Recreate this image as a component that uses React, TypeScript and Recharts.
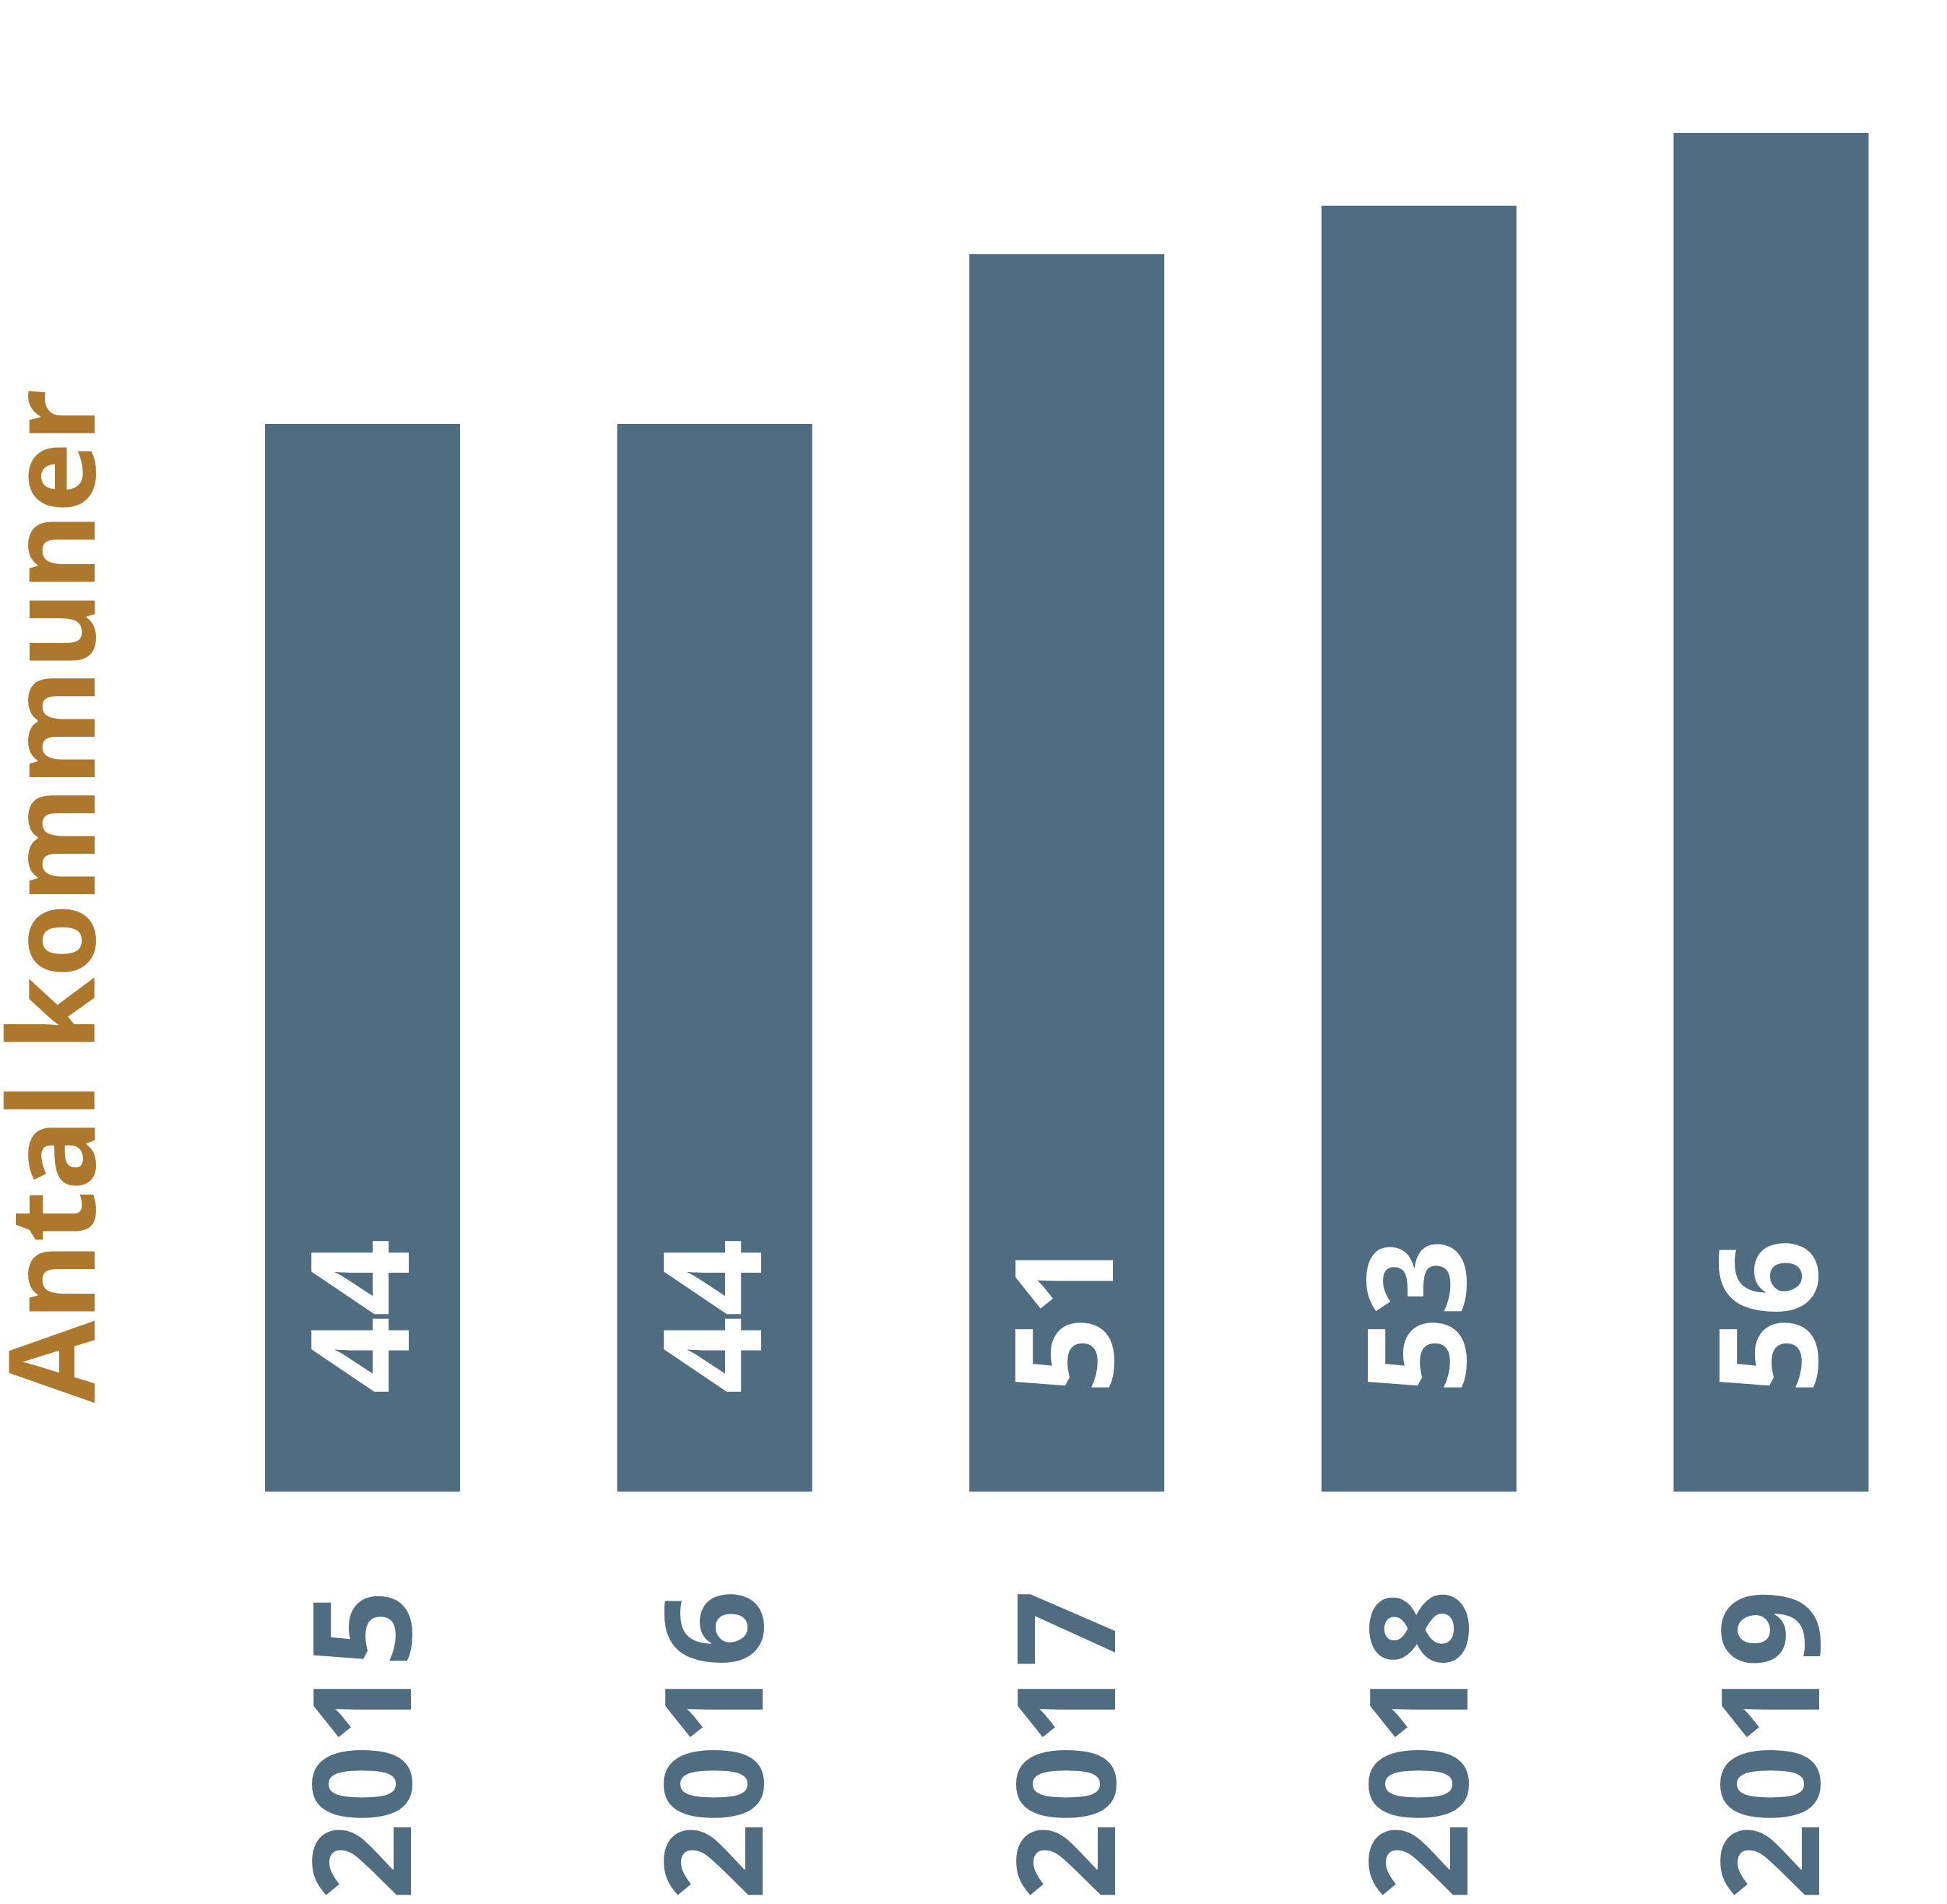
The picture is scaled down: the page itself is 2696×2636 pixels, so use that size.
import React from 'react';
import { BarChart, Bar, XAxis, YAxis, LabelList, Label } from 'recharts';

const years = ['2015', '2016', '2017', '2018', '2019'];
const kommuner = [44, 44, 51, 53, 56];
const yTitle = 'Antal kommuner';

const BAR = '#4F6C80';
const GOLD = '#AE782C';
const FONT = '"Open Sans", sans-serif';

const data = years.map((year, i) => ({ year, kommuner: kommuner[i] }));

function YearTick(props: any) {
  const { x, y, payload } = props;
  return (
    <text
      transform={`translate(${x + 67}, ${y + 136}) rotate(-90)`}
      textAnchor="end"
      fill={BAR}
      fontFamily={FONT}
      fontWeight={700}
      fontSize={188}
    >
      {payload.value}
    </text>
  );
}

function ValueLabel(props: any) {
  const { x, y, width, height, value } = props;
  const cx = Number(x) + Number(width) / 2;
  const bottom = Number(y) + Number(height);
  return (
    <text
      transform={`translate(${cx + 64}, ${bottom - 135}) rotate(-90)`}
      textAnchor="start"
      fill="#FFFFFF"
      fontFamily={FONT}
      fontWeight={700}
      fontSize={188}
    >
      {value}
    </text>
  );
}

function AxisTitle() {
  return (
    <text
      transform="translate(131, 1240) rotate(-90)"
      textAnchor="middle"
      fill={GOLD}
      fontFamily={FONT}
      fontWeight={700}
      fontSize={165}
    >
      {yTitle}
    </text>
  );
}

export default function App() {
  return (
    <div style={{ position: 'absolute', left: 0, top: 0, background: '#fff' }}>
      <BarChart
        width={2696}
        height={2636}
        data={data}
        margin={{ top: 184, right: 0, bottom: 0, left: 0 }}
      >
        <XAxis
          dataKey="year"
          height={571}
          axisLine={false}
          tickLine={false}
          tickSize={0}
          tickMargin={0}
          interval={0}
          tick={<YearTick />}
        />
        <YAxis
          width={258}
          domain={[0, 56]}
          tick={false}
          axisLine={false}
          tickLine={false}
        >
          <Label content={<AxisTitle />} />
        </YAxis>
        <Bar dataKey="kommuner" fill={BAR} barSize={270} isAnimationActive={false}>
          <LabelList dataKey="kommuner" content={<ValueLabel />} />
        </Bar>
      </BarChart>
    </div>
  );
}
